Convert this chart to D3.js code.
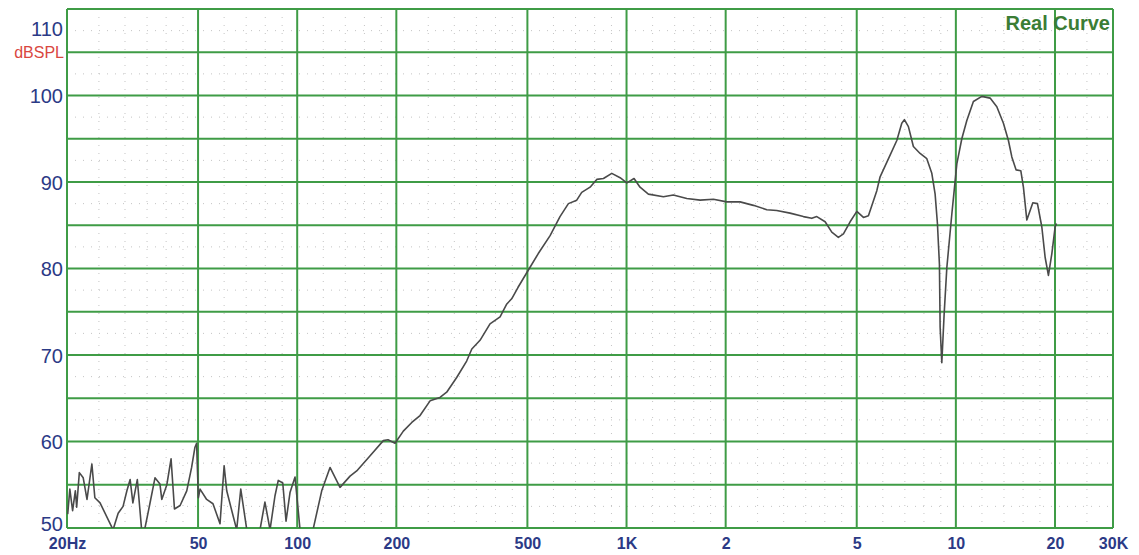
<!DOCTYPE html>
<html><head><meta charset="utf-8">
<script src="https://cdn.jsdelivr.net/npm/d3@7"></script>
<style>body{margin:0;background:#fff}svg{display:block}</style>
</head><body>
<svg id="chart" width="1139" height="555"></svg>
<script>
// ---- data ----
const freqHz = [20.1,20.4,20.8,21.2,21.4,21.8,22.4,23.0,23.8,24.3,25.2,27.6,28.6,29.6,30.4,31.1,31.7,32.7,33.7,34.5,35.7,37.0,38.3,38.8,40.2,41.4,42.4,44.1,46.2,47.8,48.9,49.5,50.1,50.7,53.1,55.5,58.3,60.0,61.1,63.3,65.5,67.4,70.3,77.1,79.8,82.7,85.6,87.6,90.4,92.5,95.1,98.5,102,111.7,118.7,125.8,134.9,144.7,151.6,166,182.6,188.7,198.2,210,222.8,236,253.2,271.4,284.4,305,327,339,359,385,413,433,448,468,503,539,586,628,666,706,731,775,812,851,902,956,1002,1054,1099,1165,1294,1387,1524,1673,1836,2015,2212,2428,2666,2858,3137,3444,3652,3782,4009,4200,4398,4556,4774,5003,5240,5426,5754,5888,6314,6617,6851,6978,7176,7430,7788,8161,8452,8650,8790,8914,8958,9064,9212,9388,9722,10068,10424,10796,11304,11988,12706,13316,13944,14440,14788,15240,15750,16036,16424,17128,17690,18240,18664,19100,19560,20014,20200];
const splDb = [51.6,54.5,52.0,54.3,52.4,56.4,55.8,53.3,57.4,53.5,52.9,49.8,51.7,52.5,54.3,55.6,52.9,55.6,49.8,50.0,52.8,55.8,55.1,53.3,55.0,58.0,52.2,52.6,54.3,57.0,59.3,59.8,53.5,54.5,53.3,52.8,50.5,57.2,54.3,52.0,49.8,54.5,49.8,49.8,53.0,49.8,53.7,55.5,55.2,50.8,54.1,55.9,49.8,49.8,54.3,57.0,54.7,56.0,56.6,58.3,60.1,60.2,59.8,61.2,62.2,63.0,64.7,65.1,65.7,67.4,69.3,70.7,71.7,73.6,74.4,75.9,76.5,77.8,79.8,81.7,83.8,86.0,87.5,87.9,88.8,89.4,90.3,90.4,91.0,90.5,89.9,90.4,89.4,88.6,88.3,88.5,88.1,87.9,88.0,87.7,87.7,87.3,86.8,86.7,86.4,86.0,85.8,86.0,85.4,84.2,83.6,84.0,85.4,86.6,85.9,86.1,89.0,90.6,93.1,94.8,96.8,97.2,96.4,94.1,93.3,92.7,91.0,88.6,85.2,80.5,73.2,69.1,74.7,80.1,86.3,92.1,95.0,97.1,99.3,99.9,99.7,98.7,96.8,94.8,92.9,91.4,91.3,89.4,85.6,87.6,87.5,84.8,81.3,79.2,81.7,84.8,85.2];

const xTickValues = [20,50,100,200,500,1000,2000,5000,10000,20000,30000];
const xTickLabels = ["20Hz","50","100","200","500","1K","2","5","10","20","30K"];
const xMinorValues = [25,30,35,40,45,60,70,80,90,120,140,160,180,250,300,350,400,450,600,700,800,900,1200,1400,1600,1800,2500,3000,3500,4000,4500,6000,7000,8000,9000,12000,14000,16000,18000,25000];
const yTickValues = [50,60,70,80,90,100,110];
const yMajorValues = [50,55,60,65,70,75,80,85,90,95,100,105,110];
const yMinorValues = [52.5,57.5,62.5,67.5,72.5,77.5,82.5,87.5,92.5,97.5,102.5,107.5];
const yUnit = "dBSPL";
const legendText = "Real Curve";

// ---- drawing ----
const svg = d3.select("#chart");
const L = 67, R = 1113, T = 9, B = 528;
const x = d3.scaleLog().domain([20, 30000]).range([L, R]);
const y = d3.scaleLinear().domain([50, 110]).range([B, T]);
const grid = "#3f9c46";

// minor dotted grid
const gm = svg.append("g").attr("stroke", "#c4c4c4").attr("stroke-width", 1).attr("stroke-dasharray", "1,7");
gm.selectAll(".mv").data(xMinorValues).join("line")
  .attr("x1", d => x(d)).attr("x2", d => x(d)).attr("y1", T).attr("y2", B);
gm.selectAll(".mh").data(yMinorValues).join("line")
  .attr("x1", L).attr("x2", R).attr("y1", d => y(d)).attr("y2", d => y(d));

// major grid
const gM = svg.append("g").attr("stroke", grid).attr("stroke-width", 2);
gM.selectAll(".h").data(yMajorValues).join("line")
  .attr("x1", L).attr("x2", R).attr("y1", d => y(d)).attr("y2", d => y(d));
gM.selectAll(".v").data(xTickValues).join("line")
  .attr("x1", d => x(d)).attr("x2", d => x(d)).attr("y1", T).attr("y2", B);

// curve
svg.append("clipPath").attr("id", "clip").append("rect")
  .attr("x", L).attr("y", T).attr("width", R - L).attr("height", B - T);
const pts = freqHz.map((f, i) => [f, splDb[i]]);
svg.append("path").datum(pts)
  .attr("clip-path", "url(#clip)")
  .attr("fill", "none").attr("stroke", "#4a4a4a").attr("stroke-width", 1.6)
  .attr("stroke-linejoin", "round")
  .attr("d", d3.line().x(d => x(d[0])).y(d => y(d[1])));

// x axis labels
const xAxis = d3.axisBottom(x).tickValues(xTickValues)
  .tickFormat((d, i) => xTickLabels[i]).tickSize(0).tickPadding(0);
const gx = svg.append("g").attr("transform", `translate(0,${B + 9})`).call(xAxis);
gx.select(".domain").remove();
gx.selectAll("text").attr("fill", "#2b3a86").attr("font-family", "Liberation Sans, Arial, sans-serif")
  .attr("font-size", 16).attr("font-weight", "bold").attr("dy", "0.75em");

// y axis labels
const yAxis = d3.axisLeft(y).tickValues(yTickValues).tickFormat(d3.format("d")).tickSize(0).tickPadding(0);
const gy = svg.append("g").attr("transform", `translate(${L - 4},0)`).call(yAxis);
gy.select(".domain").remove();
gy.selectAll("text").attr("fill", "#2b3a86").attr("font-family", "Liberation Sans, Arial, sans-serif")
  .attr("font-size", 20).attr("dy", "0.35em");
gy.selectAll(".tick").filter(d => d === 110).select("text").attr("dy", "1.3em");
gy.selectAll(".tick").filter(d => d === 50).select("text").attr("dy", "0.1em");

svg.append("text").attr("x", L - 3).attr("y", y(105)).attr("dy", "0.35em")
  .attr("text-anchor", "end").attr("fill", "#d9473f")
  .attr("font-family", "Liberation Sans, Arial, sans-serif").attr("font-size", 16)
  .text(yUnit);

svg.append("text").attr("x", 1110).attr("y", 30)
  .attr("text-anchor", "end").attr("fill", "#3b7d35")
  .attr("font-family", "Liberation Sans, Arial, sans-serif").attr("font-size", 20).attr("font-weight", "bold")
  .text(legendText);
</script>
</body></html>
